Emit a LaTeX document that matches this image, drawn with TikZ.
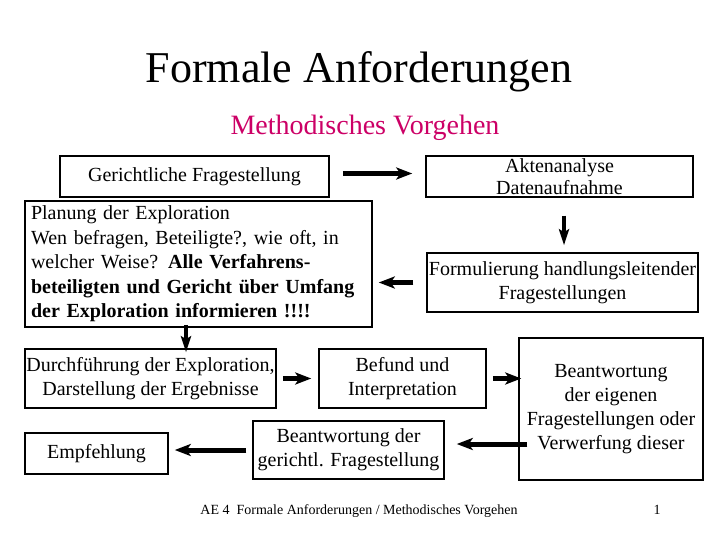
\documentclass[tikz,border=0pt]{standalone}
\usepackage{fontspec}
\setmainfont{Liberation Serif}
\usetikzlibrary{arrows.meta}
\usetikzlibrary{calc}
\definecolor{vorgehen}{RGB}{204,0,102}

\begin{document}
\begin{tikzpicture}[x=1pt,y=-1pt,>={Stealth[length=16pt,width=12pt,inset=4pt]},
kasten/.style={rectangle,draw=black,line width=1.5pt,inner sep=0pt,align=center,font=\fontsize{20}{24}\selectfont},
pfeil/.style={->,line width=5pt},
pfeilschmal/.style={-{Stealth[length=16pt,width=10pt,inset=3pt]},line width=3.5pt}]
\useasboundingbox (0,0) rectangle (720,540);
\pgfmathsetmacro{\reihe}{378.5}
\node[anchor=base,font=\fontsize{44}{50}\selectfont](titel) at (359,83){Formale Anforderungen};
\node[anchor=base,font=\fontsize{28}{32}\selectfont,text=vorgehen](untertitel) at (365,135){Methodisches Vorgehen};
\node[kasten,minimum width=269,minimum height=41](gericht) at (194.5,176.5){Gerichtliche Fragestellung};
\node[kasten,minimum width=267,minimum height=41,font=\fontsize{20}{22}\selectfont](akten) at (559.5,176.5){Aktenanalyse\\Datenaufnahme};
\node[kasten,minimum width=271,minimum height=59](formul) at (562.5,282.5){Formulierung handlungsleitender\\Fragestellungen};
\node[kasten,minimum width=347,minimum height=126,text width=335,align=left,font=\fontsize{20}{24.5}\selectfont](planung) at (198.5,264){Planung der Exploration\\
Wen befragen, Beteiligte?, wie oft, in\\
welcher Weise? \textbf{Alle Verfahrens-}\\
\textbf{beteiligten und Gericht über Umfang}\\
\textbf{der Exploration informieren !!!!}};
\node[kasten,minimum width=251,minimum height=59](durch) at (150.5,\reihe){Durchführung der Exploration,\\Darstellung der Ergebnisse};
\node[kasten,minimum width=167,minimum height=59](befund) at (402.5,\reihe){Befund und\\Interpretation};
\node[kasten,minimum width=184,minimum height=142](eigen) at (611,409){Beantwortung\\der eigenen\\Fragestellungen oder\\Verwerfung dieser};
\node[kasten,minimum width=191,minimum height=58](ger) at (348.5,450){Beantwortung der\\gerichtl. Fragestellung};
\node[kasten,minimum width=143,minimum height=41](empf) at (96.5,453.5){Empfehlung};
\begin{scope}
\draw[pfeil,shorten <=13pt,shorten >=13pt] ([yshift=3pt]gericht.east) -- ([yshift=3pt]akten.west);
\draw[pfeilschmal,shorten <=18pt,shorten >=7pt] ([xshift=4.5pt]akten.south) -- ([xshift=4.5pt]akten.south |- formul.north);
\draw[pfeil,shorten <=13pt,shorten >=6pt] (formul.west) -- (formul.west -| planung.east);
\draw[pfeilschmal,shorten <=-3pt,shorten >=-4pt] ([xshift=-12.5pt]planung.south) -- ([xshift=-12.5pt]planung.south |- durch.north);
\draw[pfeil,shorten <=6pt,shorten >=7pt] (durch.east) -- (befund.west);
\draw[pfeil,shorten <=6pt,shorten >=-3pt] (befund.east) -- (befund.east -| eigen.west);
\draw[pfeil,shorten <=-9pt,shorten >=12pt] ([yshift=6pt]ger.east -| eigen.west) -- ([yshift=6pt]ger.east);
\draw[pfeil,shorten <=6pt,shorten >=6pt] (ger.west) -- (ger.west -| empf.east);
\end{scope}
\node[anchor=base,font=\fontsize{14}{16}\selectfont](fuss) at (359,514){AE 4\ \ Formale Anforderungen / Methodisches Vorgehen};
\node[anchor=base,font=\fontsize{14}{16}\selectfont](seite) at (657,514){1};
\end{tikzpicture}
\end{document}
